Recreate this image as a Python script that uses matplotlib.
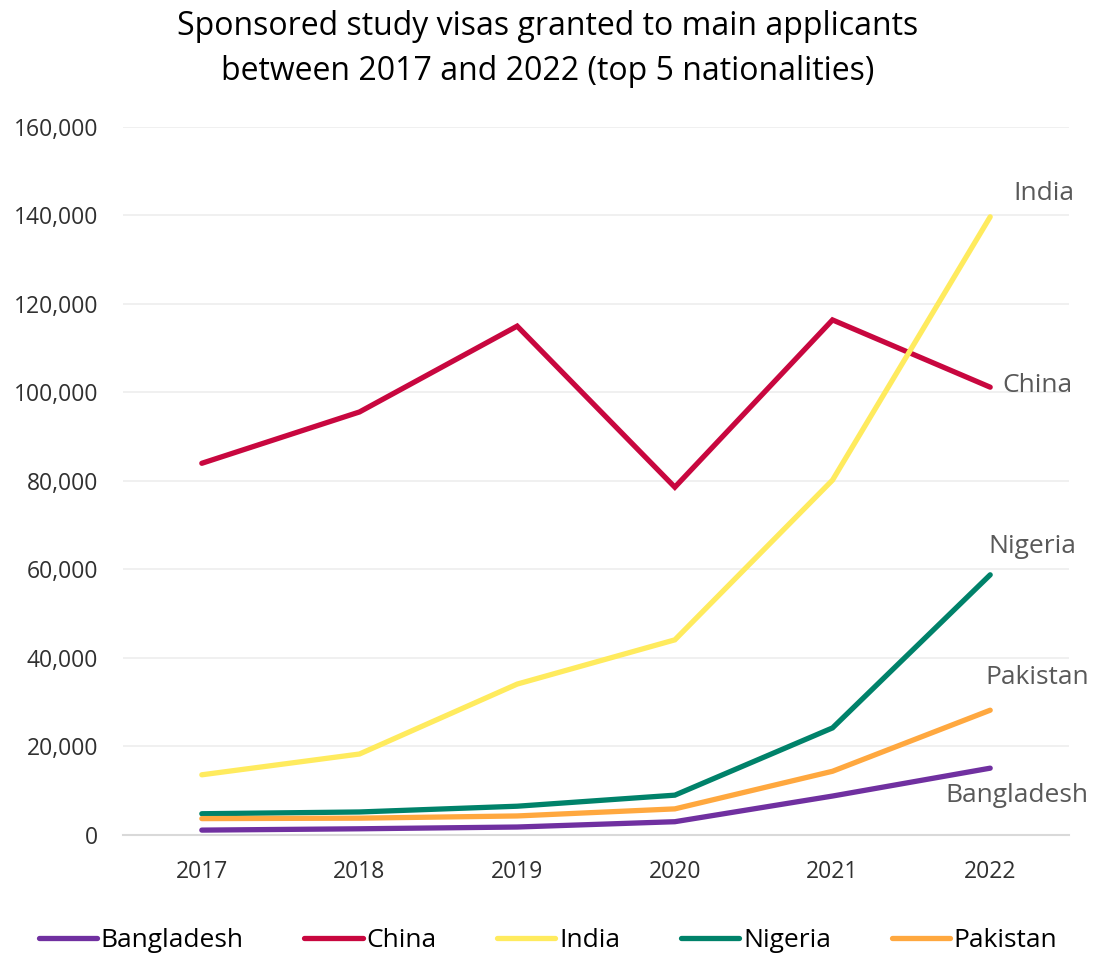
import matplotlib
matplotlib.use("Agg")
import matplotlib.pyplot as plt
from matplotlib.ticker import FuncFormatter

plt.rcParams['font.family'] = ['Open Sans', 'DejaVu Sans']

# Datos
years = ['2017', '2018', '2019', '2020', '2021', '2022']
bangladesh = [1100, 1400, 1800, 3000, 8800, 15100]
china = [84000, 95600, 115000, 78600, 116400, 101200]
india = [13600, 18300, 34100, 44100, 80200, 139700]
nigeria = [4800, 5200, 6500, 9000, 24200, 58800]
pakistan = [3700, 3800, 4300, 5900, 14400, 28200]

series = [
    ('Bangladesh', bangladesh, '#7030A0'),
    ('China', china, '#C8073F'),
    ('India', india, '#FFEB5E'),
    ('Nigeria', nigeria, '#00826A'),
    ('Pakistan', pakistan, '#FFA83F'),
]

fig = plt.figure(figsize=(10.96, 9.57), dpi=100)
ax = fig.add_axes([0.1122, 0.1275, 0.8632, 0.7398])

x = list(range(len(years)))
for name, vals, col in series:
    ax.plot(x, vals, color=col, linewidth=3.8, label=name,
            solid_capstyle='round', solid_joinstyle='miter')

# Etiquetas al final de las líneas
end_labels = [
    ('India', 5.34, 145000),
    ('China', 5.30, 101500),
    ('Nigeria', 5.27, 65300),
    ('Pakistan', 5.30, 35700),
    ('Bangladesh', 5.17, 9000),
]
for txt, lx, ly in end_labels:
    ax.text(lx, ly, txt, ha='center', va='center', fontsize=19, color='#595959')

ax.set_xlim(-0.5, 5.5)
ax.set_ylim(0, 160000)
ax.set_xticks(x)
ax.set_xticklabels(years)
ax.set_yticks(range(0, 160001, 20000))
ax.yaxis.set_major_formatter(FuncFormatter(lambda v, p: f'{int(v):,}'))
ax.tick_params(axis='both', length=0, labelsize=16.5, labelcolor='#303030')
ax.tick_params(axis='x', pad=18)
ax.tick_params(axis='y', pad=18)

ax.grid(axis='y', color='#EEEEEE', linewidth=1.2)
ax.set_axisbelow(True)
for s in ['top', 'right', 'left']:
    ax.spines[s].set_visible(False)
ax.spines['bottom'].set_color('#D9D9D9')
ax.spines['bottom'].set_linewidth(1.5)

fig.text(0.5, 0.949, 'Sponsored study visas granted to main applicants\nbetween 2017 and 2022 (top 5 nationalities)',
         ha='center', va='center', fontsize=23, color='#000000', linespacing=1.5)

fig.legend(loc='center', bbox_to_anchor=(0.5, 0.017), ncol=5, frameon=False,
           fontsize=19, handlelength=2.2, handletextpad=0.15, columnspacing=2.3)

fig.savefig('out.png', dpi=100)
